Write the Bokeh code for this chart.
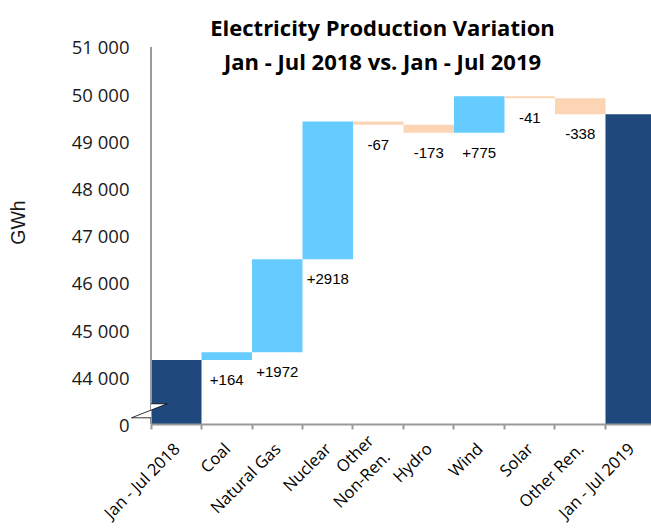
import math
from bokeh.plotting import figure
from bokeh.models import FixedTicker, Range1d, Label, ColumnDataSource
from bokeh.core.properties import value
from bokeh.embed import file_html
from bokeh.resources import INLINE

# ---- data ----
categories = ["Jan - Jul 2018", "Coal", "Natural Gas", "Nuclear", "Other\nNon-Ren.",
              "Hydro", "Wind", "Solar", "Other Ren.", "Jan - Jul 2019"]
start_total = 44365
changes = [164, 1972, 2918, -67, -173, 775, -41, -338]
y_tick_values = [43000, 44000, 45000, 46000, 47000, 48000, 49000, 50000, 51000]
y_tick_labels = ["0", "44 000", "45 000", "46 000", "47 000", "48 000", "49 000", "50 000", "51 000"]
title_lines = ["Electricity Production Variation", "Jan - Jul 2018 vs. Jan - Jul 2019"]

# ---- layout constants ----
axis_floor = 43000          # broken axis: this position is labelled "0"
C_TOTAL = "#1F497D"
C_UP = "#66CCFF"
C_DOWN = "#FCD5B5"
AXIS_GRAY = "#9A9A9A"

# ---- waterfall computation ----
xs, bottoms, tops, colors = [], [], [], []
xs.append(0.5); bottoms.append(axis_floor); tops.append(start_total); colors.append(C_TOTAL)
level = start_total
lab_x, lab_y, lab_t = [], [], []
for i, ch in enumerate(changes):
    new = level + ch
    xs.append(i + 1.5)
    bottoms.append(min(level, new)); tops.append(max(level, new))
    colors.append(C_UP if ch > 0 else C_DOWN)
    lab_x.append(i + 1.5); lab_y.append(min(level, new)); lab_t.append(("+%d" % ch) if ch > 0 else ("%d" % ch))
    level = new
end_total = level
xs.append(len(categories) - 0.5); bottoms.append(axis_floor); tops.append(end_total); colors.append(C_TOTAL)

src = ColumnDataSource(dict(x=xs, bottom=bottoms, top=tops, color=colors))
lab_src = ColumnDataSource(dict(x=lab_x, y=lab_y, text=lab_t))

p = figure(width=651, height=528,
           x_range=Range1d(-0.406, 9.911), y_range=Range1d(43000, 51559.3),
           output_backend="svg", toolbar_location=None,
           min_border_left=130, min_border_right=0, min_border_top=20, min_border_bottom=104)
p.outline_line_color = None
p.grid.visible = False

p.vbar(x="x", bottom="bottom", top="top", width=1.0, color="color", line_color=None, source=src)

p.text(x="x", y="y", text="text", source=lab_src, text_align="center", text_baseline="middle",
       y_offset=20, text_font=value("Liberation Sans"), text_font_size="15px", text_color="#000000")

# y-axis line drawn at the first category boundary
p.segment(x0=[0], y0=[y_tick_values[0]], x1=[0], y1=[y_tick_values[-1]], line_color=AXIS_GRAY, line_width=2)

# axis break symbol
bx = [0.0, -0.386, 0.321, 0.0]
by = [43142, 43142, 43439, 43439]
p.patch(bx, by, fill_color="white", line_color=None)
p.line(bx, by, line_color="black", line_width=0.8)

# y axis
yax = p.yaxis[0]
yax.ticker = FixedTicker(ticks=y_tick_values)
yax.major_label_overrides = {v: s for v, s in zip(y_tick_values, y_tick_labels)}
yax.axis_line_color = None
yax.major_tick_line_color = None
yax.minor_tick_line_color = None
yax.major_tick_out = 0
yax.major_tick_in = 0
yax.major_label_standoff = 1
yax.major_label_text_font = "Open Sans"
yax.major_label_text_font_size = "18.5px"
yax.major_label_text_color = "#1a1a1a"
yax.axis_label = "GWh"
yax.axis_label_text_font = "Liberation Sans"
yax.axis_label_text_font_size = "19.5px"
yax.axis_label_text_font_style = "normal"
yax.axis_label_text_color = "#1a1a1a"
yax.axis_label_standoff = 40

# x axis
xax = p.xaxis[0]
centers = [i + 0.5 for i in range(len(categories))]
boundaries = [float(i) for i in range(len(categories) + 1)]
xax.ticker = FixedTicker(ticks=centers, minor_ticks=boundaries)
xax.major_label_overrides = {c: s for c, s in zip(centers, categories)}
xax.bounds = (0, len(categories))
xax.axis_line_color = AXIS_GRAY
xax.axis_line_width = 2
xax.major_tick_line_color = None
xax.major_tick_out = 0
xax.major_tick_in = 0
xax.minor_tick_line_color = AXIS_GRAY
xax.minor_tick_line_width = 2
xax.minor_tick_out = 5
xax.minor_tick_in = 0
xax.major_label_orientation = math.pi / 4
xax.major_label_standoff = 16
xax.major_label_text_font = "Open Sans"
xax.major_label_text_font_size = "16.5px"
xax.major_label_text_line_height = 1.0
xax.major_label_text_color = "#000000"
# invisible axis label with negative standoff: keeps the frame height fixed
xax.axis_label = " "
xax.axis_label_text_font_size = "1px"
xax.axis_label_standoff = -45

# title (two lines, overlapping the top of the plot area as in the original)
p.add_layout(Label(x=4.584, y=51427, text=title_lines[0], text_align="center", text_baseline="alphabetic",
                   text_font="Open Sans", text_font_style="bold", text_font_size="22px", text_color="#000000"))
p.add_layout(Label(x=4.584, y=50700, text=title_lines[1], text_align="center", text_baseline="alphabetic",
                   text_font="Open Sans", text_font_style="bold", text_font_size="22px", text_color="#000000"))

open("out.html", "w").write(file_html(p, INLINE))
